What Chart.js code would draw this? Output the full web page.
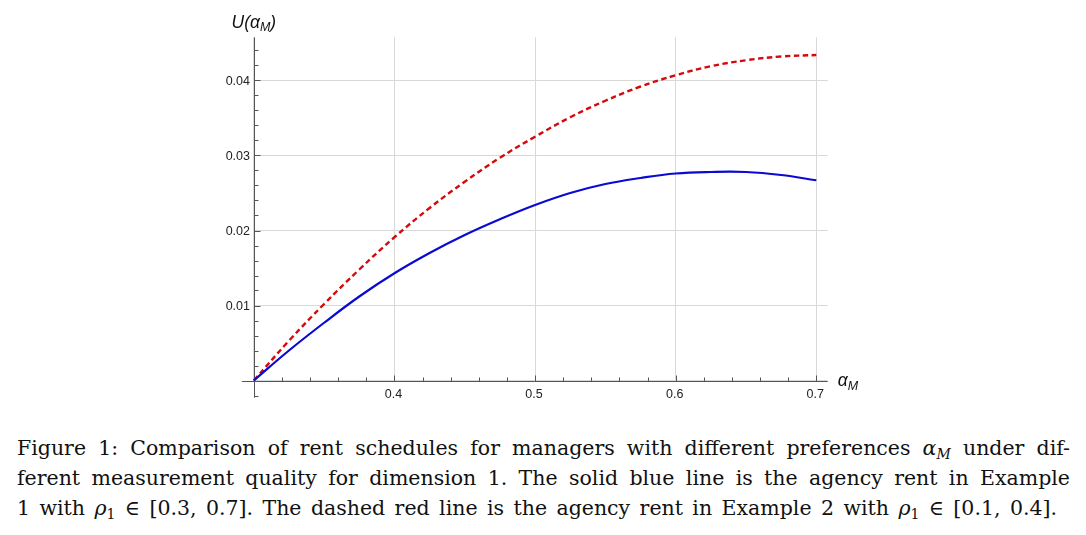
<!DOCTYPE html>
<html>
<head>
<meta charset="utf-8">
<script src="https://cdn.jsdelivr.net/npm/chart.js@4"></script>
<style>
    body { margin: 0; background: #fff; width: 1086px; height: 535px; overflow: hidden; position: relative; }
    #wrap { position: absolute; left: 0; top: 0; width: 1086px; height: 415px; }
    #caption { position: absolute; left: 17px; top: 433px; font-family: "DejaVu Serif", serif; font-size: 20.5px; color: #111; }
    #caption div { height: 30px; line-height: 30px; text-align: justify; text-align-last: justify; width: 1053px; white-space: nowrap; }
    #caption div.last { width: 1040px; }
    #caption sub { font-size: 14px; line-height: 0; vertical-align: -4px; }
</style>
</head>
<body>
<div id="wrap"><canvas id="rentChart" width="1086" height="415"></canvas></div>
<div id="caption">
    <div>Figure 1: Comparison of rent schedules for managers with different preferences <i>α</i><sub><i>M</i></sub> under dif-</div>
    <div>ferent measurement quality for dimension 1. The solid blue line is the agency rent in Example</div>
    <div class="last">1 with <i>ρ</i><sub>1</sub> ∈ [0.3, 0.7]. The dashed red line is the agency rent in Example 2 with <i>ρ</i><sub>1</sub> ∈ [0.1, 0.4].</div>
</div>
<script>
// Values
const alphaM = [0.3, 0.325, 0.35, 0.375, 0.4, 0.425, 0.45, 0.475, 0.5, 0.525, 0.55, 0.575, 0.6, 0.625, 0.65, 0.675, 0.7];
const rentExample1 = [0, 0.0040, 0.0077, 0.0112, 0.0143, 0.0170, 0.0194, 0.0215, 0.0234, 0.0250, 0.0262, 0.0270, 0.0276, 0.0278, 0.0278, 0.0274, 0.0267];
const rentExample2 = [0, 0.0053, 0.0102, 0.0148, 0.0191, 0.0230, 0.0265, 0.0297, 0.0325, 0.0351, 0.0373, 0.0392, 0.0407, 0.0419, 0.0427, 0.0432, 0.0434];

// Axes
const xMajorTicks = [0.4, 0.5, 0.6, 0.7];
const xTickLabels = ["0.4", "0.5", "0.6", "0.7"];
const yMajorTicks = [0.01, 0.02, 0.03, 0.04];
const yTickLabels = ["0.01", "0.02", "0.03", "0.04"];
const originX = 0.3;
const xAxisFrom = 0.2915, xMax = 0.7081;
const yAxisFrom = -0.0023, yMax = 0.04576;

const axisColor = "#555";
const labelFont = "12.5px 'Liberation Sans', Arial, sans-serif";

function makePoints(ys) {
    return alphaM.map((a, i) => ({ x: a, y: ys[i] }));
}

function crisp(v) {
    return Math.round(v) + 0.5;
}

// Mathematica style axes: crossing at the origin, ticks pointing inwards
const axesPlugin = {
    id: "mmaAxes",
    beforeDatasetsDraw(chart) {
        const ctx = chart.ctx;
        const xs = chart.scales.x;
        const ys = chart.scales.y;
        const area = chart.chartArea;
        const px0 = crisp(xs.getPixelForValue(originX));
        const py0 = crisp(ys.getPixelForValue(0));

        ctx.save();
        ctx.strokeStyle = axisColor;
        ctx.lineWidth = 1;
        ctx.beginPath();
        ctx.moveTo(xs.getPixelForValue(xAxisFrom), py0);
        ctx.lineTo(area.right, py0);
        ctx.moveTo(px0, ys.getPixelForValue(yAxisFrom));
        ctx.lineTo(px0, area.top);

        // x ticks
        for (let v = 0.32; v < 0.705; v += 0.02) {
            const major = xMajorTicks.some(t => Math.abs(t - v) < 1e-6);
            const p = crisp(xs.getPixelForValue(v));
            ctx.moveTo(p, py0);
            ctx.lineTo(p, py0 - (major ? 6 : 4));
        }
        // y ticks
        for (let v = -0.002; v < yMax; v += 0.002) {
            if (Math.abs(v) < 1e-9) continue;
            const major = yMajorTicks.some(t => Math.abs(t - v) < 1e-6);
            const p = crisp(ys.getPixelForValue(v));
            ctx.moveTo(px0, p);
            ctx.lineTo(px0 + (major ? 6 : 4), p);
        }
        ctx.stroke();

        // tick labels
        ctx.fillStyle = "#222";
        ctx.font = labelFont;
        ctx.textAlign = "center";
        ctx.textBaseline = "alphabetic";
        xMajorTicks.forEach((t, i) => {
            ctx.fillText(xTickLabels[i], xs.getPixelForValue(t) - 1, py0 + 16);
        });
        ctx.textAlign = "right";
        yMajorTicks.forEach((t, i) => {
            ctx.fillText(yTickLabels[i], px0 - 4.5, ys.getPixelForValue(t) + 4.5);
        });

        // axis titles
        ctx.textAlign = "left";
        ctx.fillStyle = "#111";
        const big = "italic 17.5px 'Liberation Sans', Arial, sans-serif";
        const small = "italic 12.5px 'Liberation Sans', Arial, sans-serif";
        let tx = px0 - 23, ty = area.top - 9;
        ctx.font = big;
        ctx.fillText("U(α", tx, ty);
        tx += ctx.measureText("U(α").width;
        ctx.font = small;
        ctx.fillText("M", tx, ty + 3);
        tx += ctx.measureText("M").width;
        ctx.font = big;
        ctx.fillText(")", tx, ty);

        tx = area.right + 10; ty = py0 + 4;
        ctx.font = big;
        ctx.fillText("α", tx, ty);
        tx += ctx.measureText("α").width;
        ctx.font = small;
        ctx.fillText("M", tx, ty + 4);
        ctx.restore();
    }
};

new Chart("rentChart", {
    type: "line",
    data: {
        datasets: [{
            label: "Example 1",
            data: makePoints(rentExample1),
            borderColor: "#0a0ad2",
            borderWidth: 2.2,
            pointRadius: 0,
            tension: 0.4,
            clip: false,
            fill: false
        }, {
            label: "Example 2",
            data: makePoints(rentExample2),
            borderColor: "#d40a0a",
            borderWidth: 2.4,
            borderDash: [5.5, 3.5],
            pointRadius: 0,
            tension: 0.4,
            clip: false,
            fill: false
        }]
    },
    options: {
        responsive: false,
        animation: false,
        events: [],
        layout: { padding: { left: 253.8, right: 258.3, top: 37.3, bottom: 34.5 } },
        plugins: { legend: { display: false }, tooltip: { enabled: false } },
        scales: {
            x: {
                type: "linear",
                min: originX,
                max: xMax,
                ticks: { display: false, stepSize: 0.1, includeBounds: false },
                grid: { color: "#d8d8d8", lineWidth: 1, drawTicks: false },
                border: { display: false },
                afterFit(scale) { scale.height = 0; }
            },
            y: {
                type: "linear",
                min: 0,
                max: yMax,
                ticks: { display: false, stepSize: 0.01, includeBounds: false },
                grid: { color: "#d8d8d8", lineWidth: 1, drawTicks: false },
                border: { display: false },
                afterFit(scale) { scale.width = 0; }
            }
        }
    },
    plugins: [axesPlugin]
});
</script>
</body>
</html>
